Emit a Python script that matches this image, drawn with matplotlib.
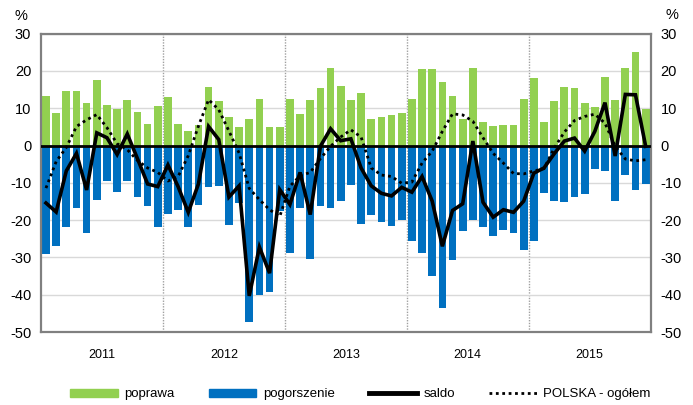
import numpy as np
import matplotlib
matplotlib.use("Agg")
import matplotlib.pyplot as plt
from matplotlib.patches import Patch
from matplotlib.lines import Line2D

plt.rcParams["font.family"] = ["Liberation Sans Narrow", "Liberation Sans", "DejaVu Sans"]
plt.rcParams["axes.unicode_minus"] = False

years = ["2011", "2012", "2013", "2014", "2015"]

# monthly shares, %
poprawa = [
    13.4, 8.6, 14.6, 14.5, 11.5, 17.6, 11.0, 9.9, 12.2, 9.1, 5.8, 10.7,
    13.0, 5.8, 3.8, 5.5, 15.7, 12.0, 7.7, 5.0, 7.0, 12.6, 5.0, 5.0,
    12.6, 8.4, 12.1, 15.3, 20.9, 15.9, 12.3, 14.2, 7.0, 7.6, 8.1, 8.6,
    12.6, 20.4, 20.6, 17.0, 13.4, 7.2, 20.8, 6.3, 5.2, 5.4, 5.4, 12.5,
    18.2, 6.4, 12.0, 15.7, 15.3, 11.3, 10.4, 18.3, 12.2, 20.9, 25.1, 9.9,
]
pogorszenie = [
    -29.1, -26.8, -21.7, -16.7, -23.4, -14.5, -9.4, -12.5, -9.5, -13.7, -16.1, -21.7,
    -18.3, -17.4, -21.9, -16.0, -11.1, -10.9, -21.4, -15.5, -47.2, -40.1, -39.2, -17.5,
    -28.7, -16.7, -30.4, -16.3, -16.7, -14.9, -10.6, -21.0, -18.5, -20.4, -21.5, -19.9,
    -25.5, -28.8, -34.9, -43.6, -30.8, -23.0, -20.0, -21.7, -24.2, -22.7, -23.4, -28.1,
    -25.7, -12.7, -14.9, -15.1, -13.9, -12.9, -6.4, -6.9, -14.9, -7.8, -12.0, -10.3,
]
saldo = [
    -15.4, -17.8, -6.8, -2.1, -11.9, 3.4, 2.1, -2.4, 3.1, -3.5, -10.3, -11.0,
    -5.2, -11.0, -17.9, -10.3, 5.1, 1.6, -13.8, -10.8, -40.3, -27.2, -34.2, -11.8,
    -15.8, -7.2, -18.5, -0.2, 4.5, 1.3, 1.8, -6.0, -10.8, -12.8, -13.5, -11.2,
    -12.5, -8.3, -14.9, -27.0, -17.4, -15.6, 1.2, -15.2, -19.2, -17.2, -17.9, -14.9,
    -7.4, -6.0, -2.2, 1.2, 2.0, -1.5, 3.8, 11.5, -2.8, 13.7, 13.6, -0.2,
]
polska = [
    -11.4, -4.3, -0.5, 5.1, 6.9, 8.3, 4.8, 0.5, -1.1, -4.0, -6.0, -7.2,
    -9.5, -8.3, -2.7, 5.2, 12.3, 9.6, 3.9, -2.0, -11.5, -14.5, -17.2, -19.0,
    -10.9, -8.1, -7.2, -3.5, -0.2, 2.3, 4.2, 2.3, -6.0, -7.9, -8.3, -10.1,
    -9.8, -4.7, -1.5, 3.8, 8.5, 8.2, 6.5, 2.1, -2.1, -4.7, -7.5, -7.6,
    -6.8, -6.2, -0.7, 3.6, 6.7, 7.8, 8.4, 6.0, -0.2, -3.6, -4.1, -3.8,
]

GREEN = "#92d050"
BLUE = "#0070c0"

x = np.arange(len(saldo))

fig = plt.figure(figsize=(6.93, 4.05), dpi=100)
ax = fig.add_axes([0.059, 0.180, 0.880, 0.737])

ax.bar(x, poprawa, width=0.76, color=GREEN, zorder=2)
ax.bar(x, pogorszenie, width=0.76, color=BLUE, zorder=2)
ax.axhline(0, color="black", lw=2, zorder=3)
ax.plot(x, polska, color="black", lw=2, linestyle=(0, (1, 1.3)), zorder=4)
ax.plot(x, saldo, color="black", lw=2.6, solid_joinstyle="miter", zorder=5)

ax.set_xlim(-0.5, len(saldo) - 0.5)
ax.set_ylim(-50, 30)
ax.set_yticks(range(-50, 31, 10))
ax.grid(axis="y", color="#d9d9d9", lw=1, zorder=0)
for k in range(1, len(years)):
    ax.axvline(12 * k - 0.5, color="#a0a0a0", lw=1, linestyle=(0, (1, 1)), zorder=1)

ax.set_xticks([12 * k + 5.5 for k in range(len(years))])
ax.set_xticklabels(years)
ax.tick_params(axis="x", length=0, pad=12, labelsize=9)
ax.tick_params(axis="y", length=0, pad=7, labelsize=10.5, labelright=True)

for s in ax.spines.values():
    s.set_color("#808080")
    s.set_linewidth(1.6)

fig.text(0.030, 0.960, "%", ha="center", va="center", fontsize=10.5)
fig.text(0.970, 0.963, "%", ha="center", va="center", fontsize=10.5)

handles = [
    Patch(color=GREEN, label="poprawa"),
    Patch(color=BLUE, label="pogorszenie"),
    Line2D([], [], color="black", lw=3.5, label="saldo"),
    Line2D([], [], color="black", lw=2, linestyle=(0, (1, 1.3)), label="POLSKA - ogółem"),
]
fig.legend(handles=handles, loc="center", bbox_to_anchor=(0.52, 0.026), ncol=4,
           frameon=False, fontsize=9.5, handlelength=3.6, handleheight=0.6,
           columnspacing=2.6, handletextpad=0.5)

fig.savefig("out.png", dpi=100)
